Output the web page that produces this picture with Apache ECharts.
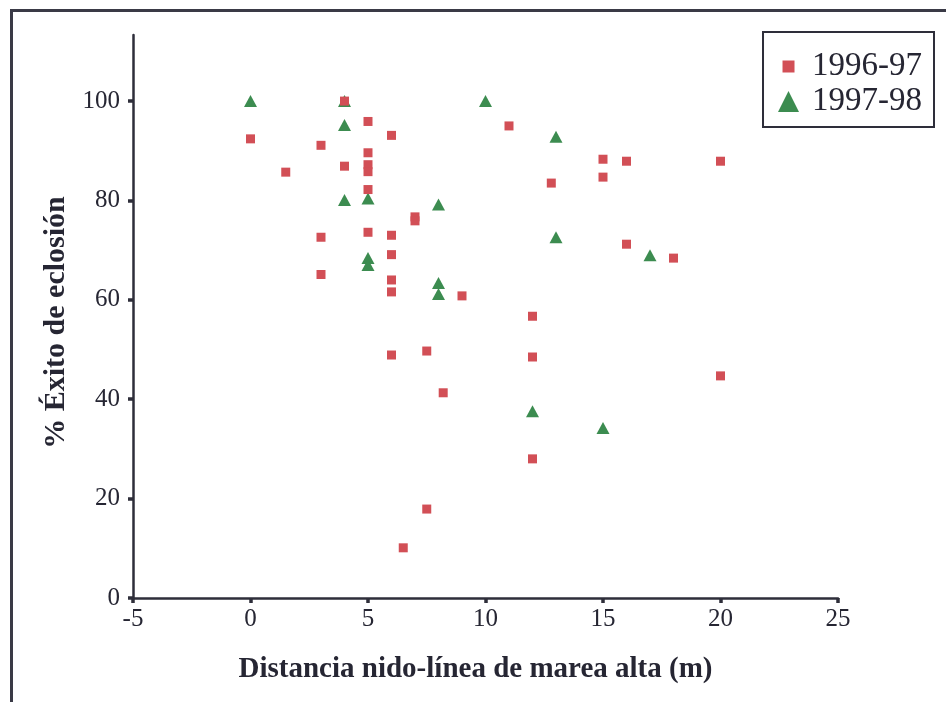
<!DOCTYPE html>
<html>
<head>
<meta charset="utf-8">
<script src="https://cdn.jsdelivr.net/npm/echarts@6/dist/echarts.min.js"></script>
<style>
  html, body { margin: 0; padding: 0; background: #ffffff; }
  #chart { width: 946px; height: 702px; }
</style>
</head>
<body>
<div id="chart"></div>
<script>
// Hatching success vs. distance from nest to high-tide line
const seasonNames = ['1996-97', '1997-98'];

// 1996-97 season: distance (m) and hatching success (%)
const dist9697 = [0, 1.5, 3, 3, 3, 4, 4, 5, 5, 5, 5, 5, 5, 6, 6, 6, 6, 6, 6, 7, 7, 7.5, 8.2, 7.5, 6.5, 9, 11, 12, 12, 12, 12.8, 15, 16, 15, 16, 18, 20, 20];
const exito9697 = [92.4, 85.7, 91.1, 72.6, 65.1, 100, 86.9, 95.9, 89.6, 87.2, 85.8, 82.2, 73.6, 93.1, 73.0, 69.1, 64.0, 61.6, 48.9, 76.7, 75.9, 49.7, 41.3, 17.9, 10.1, 60.8, 95.0, 56.7, 48.5, 28.0, 83.5, 88.3, 87.9, 84.7, 71.2, 68.4, 87.9, 44.7];

// 1997-98 season
const dist9798 = [0, 4, 4, 4, 5, 5, 5, 8, 8, 8, 10, 13, 13, 17, 12, 15];
const exito9798 = [100, 100, 95.2, 80.1, 80.4, 68.4, 67.0, 79.2, 63.4, 61.2, 100, 92.8, 72.6, 69.0, 37.6, 34.2];

// Axis ticks
const xTicks = [-5, 0, 5, 10, 15, 20, 25];
const yTicks = [0, 20, 40, 60, 80, 100];

const textColor = '#262633';
const axisColor = '#2e2e3a';
const serif = '"Liberation Serif", "Times New Roman", serif';

function pairs(xs, ys) {
  return xs.map((x, i) => [x, ys[i]]);
}

const chart = echarts.init(document.getElementById('chart'), null, { renderer: 'canvas' });

chart.setOption({
  backgroundColor: '#ffffff',
  animation: false,
  graphic: [{
    type: 'rect',
    left: 9,
    top: 8,
    shape: { width: 1000, height: 1000 },
    style: { fill: 'none', stroke: '#3a3a46', lineWidth: 3 },
    silent: true,
    z: -1
  }],
  grid: { left: 133, right: 108, top: 35, bottom: 104 },
  legend: {
    orient: 'vertical',
    right: 12,
    top: 32,
    padding: [18, 12, 9, 15],
    itemGap: 2,
    itemWidth: 21,
    itemHeight: 21,
    borderColor: '#2e2e3a',
    borderWidth: 2,
    textStyle: { fontFamily: serif, fontSize: 33, color: textColor, padding: [0, 0, 0, 8] },
    data: [
      { name: seasonNames[0], icon: 'path://M0 0M21 21M4.5 4.5h12v12h-12z' },
      { name: seasonNames[1], icon: 'triangle' }
    ]
  },
  xAxis: {
    type: 'value',
    min: -5,
    max: 25,
    interval: 5,
    name: 'Distancia nido-línea de marea alta (m)',
    nameLocation: 'middle',
    nameGap: 57,
    nameTextStyle: { fontFamily: serif, fontSize: 29, fontWeight: 'bold', color: textColor, padding: [0, 20, 0, 0] },
    axisLine: { onZero: false, lineStyle: { color: axisColor, width: 2.5 } },
    axisTick: { show: true, inside: false, length: 5, customValues: xTicks, lineStyle: { color: axisColor, width: 3.5 } },
    axisLabel: { customValues: xTicks, fontFamily: serif, fontSize: 25, color: textColor, margin: 9 },
    splitLine: { show: false }
  },
  yAxis: {
    type: 'value',
    min: 0,
    max: 113.3,
    interval: 20,
    name: '% Éxito de eclosión',
    nameLocation: 'middle',
    nameGap: 62,
    nameTextStyle: { fontFamily: serif, fontSize: 30, fontWeight: 'bold', color: textColor, padding: [0, 12, 0, 0] },
    axisLine: { onZero: false, lineStyle: { color: axisColor, width: 2.5 } },
    axisTick: { show: true, inside: false, length: 5, customValues: yTicks, lineStyle: { color: axisColor, width: 3.5 } },
    axisLabel: { customValues: yTicks, fontFamily: serif, fontSize: 25, color: textColor, margin: 13 },
    splitLine: { show: false }
  },
  series: [
    {
      name: seasonNames[0],
      type: 'scatter',
      symbol: 'rect',
      symbolSize: 9,
      itemStyle: { color: '#d24f56', opacity: 1 },
      data: pairs(dist9697, exito9697),
      z: 3
    },
    {
      name: seasonNames[1],
      type: 'scatter',
      symbol: 'triangle',
      symbolSize: [13, 12],
      itemStyle: { color: '#3c8c50', opacity: 1 },
      data: pairs(dist9798, exito9798),
      z: 2
    }
  ]
});
</script>
</body>
</html>
